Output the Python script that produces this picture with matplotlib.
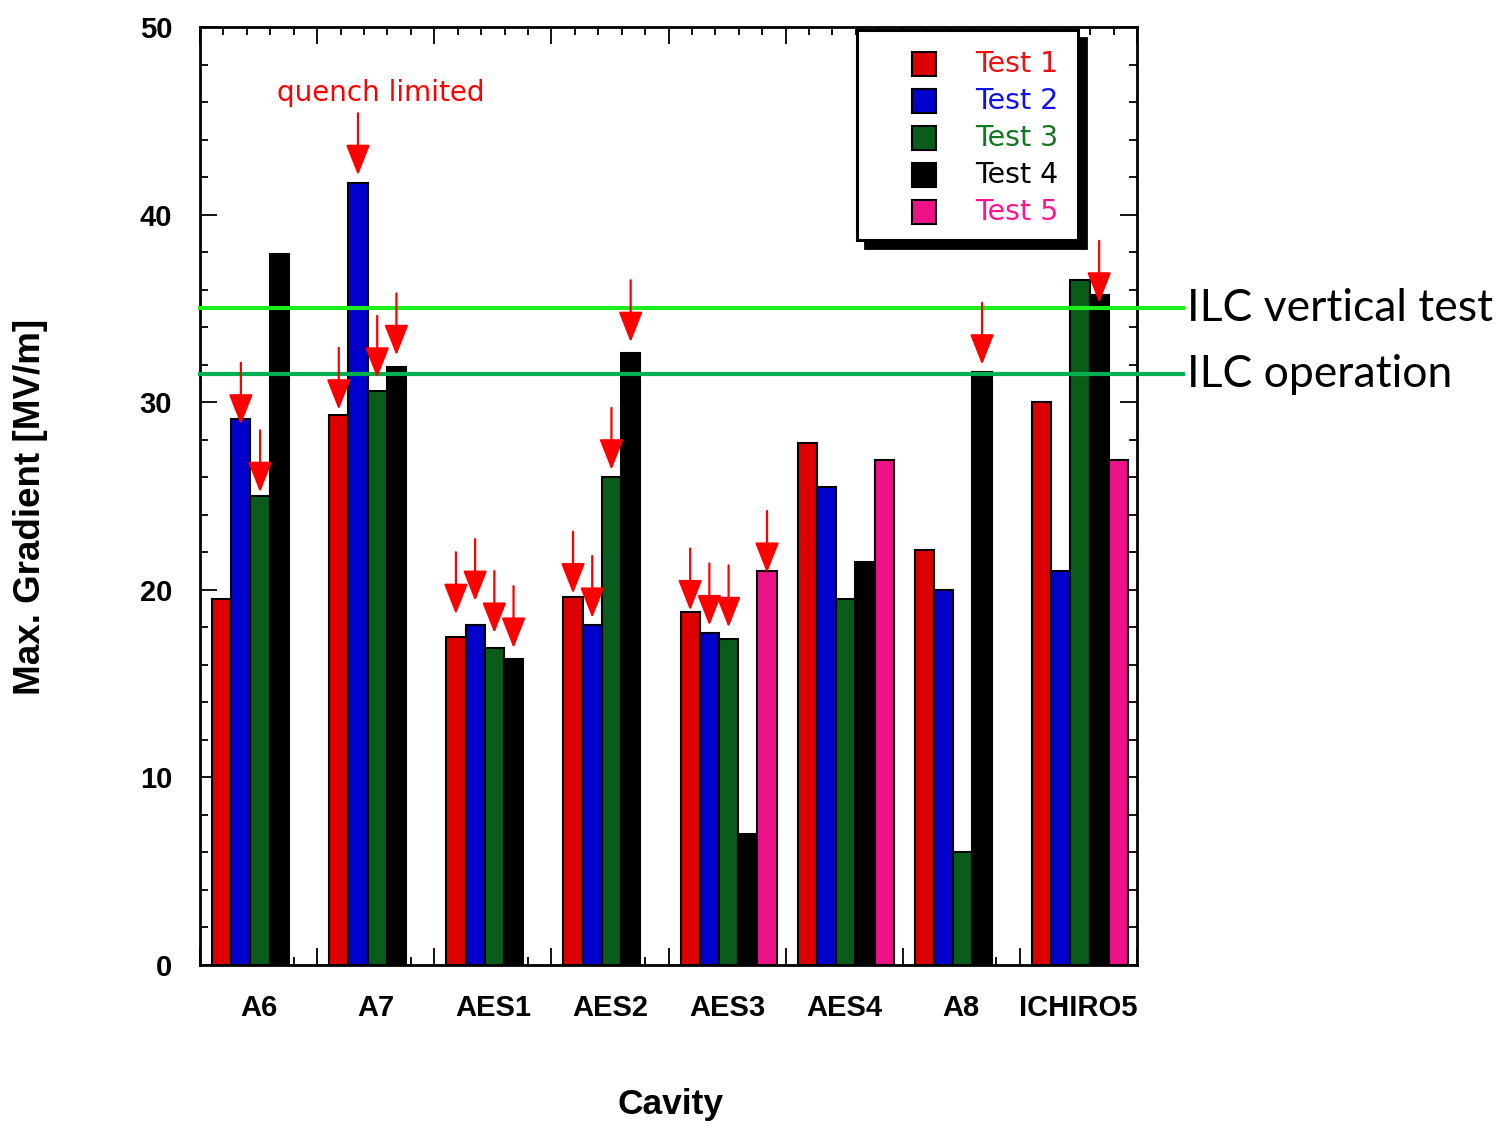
import numpy as np
import matplotlib
matplotlib.use('Agg')
import matplotlib.pyplot as plt
from matplotlib.patches import Rectangle
from matplotlib.ticker import MultipleLocator

plt.rcParams['font.family'] = 'Liberation Sans'

# cavities and max gradient per test (MV/m), None = not tested
cavities = ['A6', 'A7', 'AES1', 'AES2', 'AES3', 'AES4', 'A8', 'ICHIRO5']
test1 = [19.5, 29.3, 17.5, 19.6, 18.8, 27.8, 22.1, 30.0]
test2 = [29.1, 41.7, 18.1, 18.1, 17.7, 25.5, 20.0, 21.0]
test3 = [25.0, 30.6, 16.9, 26.0, 17.4, 19.5, 6.0, 36.5]
test4 = [37.9, 31.9, 16.3, 32.6, 7.0, 21.5, 31.6, 35.7]
test5 = [None, None, None, None, 21.0, 26.9, None, 26.9]
series = [test1, test2, test3, test4, test5]
test_labels = ['Test 1', 'Test 2', 'Test 3', 'Test 4', 'Test 5']
bar_colors = ['#dd0000', '#0000cc', '#0a5c1a', '#000000', '#ee1188']
text_colors = ['#ee1111', '#1111ee', '#117722', '#000000', '#ff1493']

# quench limited arrows: cavity index, test index, arrow tip (MV/m)
arrow_cavity = [0, 0, 1, 1, 1, 1, 2, 2, 2, 2, 3, 3, 3, 3, 4, 4, 4, 4, 6, 7]
arrow_test = [1, 2, 0, 1, 2, 3, 0, 1, 2, 3, 0, 1, 2, 3, 0, 1, 2, 4, 3, 3]
arrow_tip = [28.8, 25.2, 29.6, 42.1, 31.3, 32.5, 18.7, 19.4, 17.7, 16.9,
             19.8, 18.5, 26.4, 33.2, 18.9, 18.1, 18.0, 20.9, 32.0, 35.3]

ilc_vertical = 35.0
ilc_operation = 31.5

W, H = 1502, 1126
fig = plt.figure(figsize=(W / 100, H / 100), dpi=100)
ax = fig.add_axes([200 / W, 1 - 965 / H, 937 / W, 938 / H])

bar_w = 0.164
offset = 0.103
for k, vals in enumerate(series):
    xs = [i + offset + k * bar_w for i, v in enumerate(vals) if v is not None]
    hs = [v for v in vals if v is not None]
    ax.bar(xs, hs, width=bar_w, align='edge', color=bar_colors[k],
           edgecolor='black', linewidth=1.5, zorder=2)

# ILC reference lines run past the right edge of the axes
ytrans = ax.get_yaxis_transform()
ax.plot([0, 1.049], [ilc_vertical] * 2, color='#1eee1e', lw=3,
        transform=ytrans, clip_on=False, zorder=3)
ax.plot([0, 1.049], [ilc_operation] * 2, color='#00b050', lw=3,
        transform=ytrans, clip_on=False, zorder=3)
ax.text(1.053, ilc_vertical, 'ILC vertical test', transform=ytrans,
        fontsize=32, family='Lato', va='center', ha='left')
ax.text(1.053, ilc_operation, 'ILC operation', transform=ytrans,
        fontsize=32, family='Lato', va='center', ha='left')

# arrows
arrow_len = 3.3
for c, t, tip in zip(arrow_cavity, arrow_test, arrow_tip):
    x = c + offset + (t + 0.5) * bar_w
    ax.annotate('', xy=(x, tip), xytext=(x, tip + arrow_len),
                arrowprops=dict(arrowstyle='-|>,head_length=1.9,head_width=0.75',
                                mutation_scale=10, color='red', lw=1.6,
                                shrinkA=0, shrinkB=0),
                zorder=4)
ax.text(1.547, 46.5, 'quench limited', color='red', fontsize=20,
        family='DejaVu Sans', ha='center', va='center')

ax.set_xlim(0, len(cavities))
ax.set_ylim(0, 50)
ax.set_xticks(np.arange(len(cavities) + 1))
ax.set_xticklabels([])
ax.xaxis.set_minor_locator(MultipleLocator(0.2))
ax.yaxis.set_major_locator(MultipleLocator(10))
ax.yaxis.set_minor_locator(MultipleLocator(2))
ax.tick_params(which='both', direction='in', top=True, right=True, width=1.3)
ax.tick_params(which='major', length=12)
ax.tick_params(which='minor', length=6)
ax.tick_params(axis='y', which='major', labelsize=21, pad=20)
for lab in ax.get_yticklabels():
    lab.set_fontweight('bold')
for s in ax.spines.values():
    s.set_linewidth(2)

xtrans = ax.get_xaxis_transform()
for i, name in enumerate(cavities):
    ax.text(i + 0.5, -0.046, name, transform=xtrans, ha='center', va='center',
            fontsize=21, fontweight='bold')

ax.set_ylabel('Max. Gradient [MV/m]', fontsize=26.5, fontweight='bold')
ax.yaxis.set_label_coords(-0.162, 0.488)
ax.set_xlabel('Cavity', fontsize=25.5, fontweight='bold')
ax.xaxis.set_label_coords(0.502, -0.131)


# legend with hard drop shadow, placed in figure pixels
def fx(px):
    return px / W


def fy(py):
    return 1 - py / H


lx0, lx1, ly0, ly1 = 857, 1078, 30, 240
fig.add_artist(Rectangle((fx(lx0 + 8), fy(ly1 + 8)), fx(lx1 - lx0), (ly1 - ly0) / H,
                         transform=fig.transFigure, facecolor='black',
                         edgecolor='black', lw=2, zorder=5))
fig.add_artist(Rectangle((fx(lx0), fy(ly1)), fx(lx1 - lx0), (ly1 - ly0) / H,
                         transform=fig.transFigure, facecolor='white',
                         edgecolor='black', lw=2.2, zorder=6))
for k, lab in enumerate(test_labels):
    cy = 64 + 37 * k
    fig.add_artist(Rectangle((fx(912), fy(cy + 12)), fx(24), 24 / H,
                             transform=fig.transFigure, facecolor=bar_colors[k],
                             edgecolor='black', lw=1.5, zorder=7))
    fig.text(fx(975), fy(cy), lab, color=text_colors[k], fontsize=20.5,
             family='DejaVu Sans', va='center', ha='left', zorder=8)

fig.savefig('out.png', dpi=100)
